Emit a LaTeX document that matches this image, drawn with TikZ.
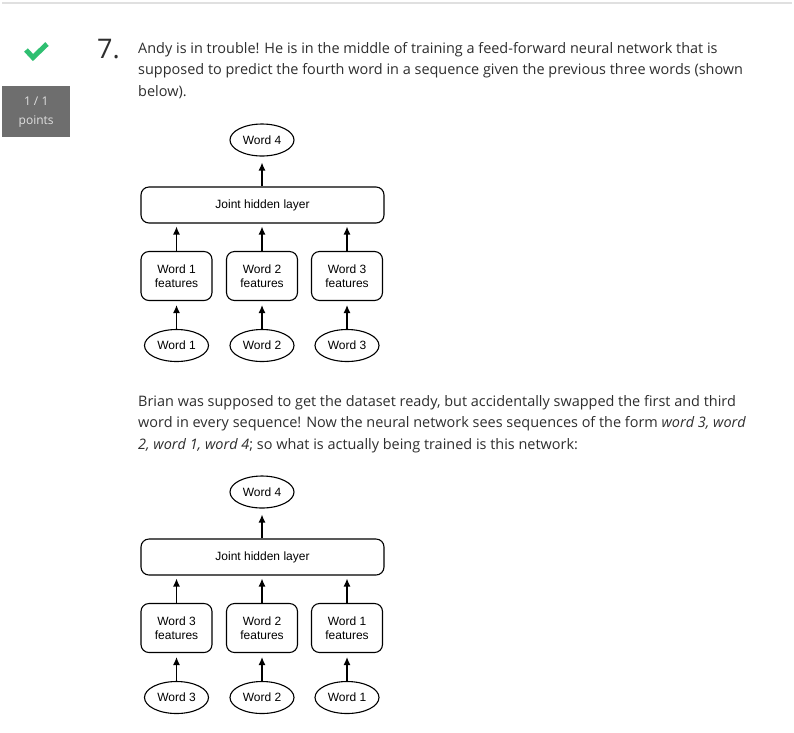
\documentclass[tikz,border=0pt]{standalone}
\usepackage{fontspec}
\setmainfont{Open Sans}
\newfontfamily\diagfont{Liberation Sans}
\usepackage{xcolor}
\usepackage{tikz}
\usetikzlibrary{arrows.meta,shapes.geometric,calc}
\definecolor{quizgreen}{HTML}{2FBF71}
\definecolor{pointsgray}{HTML}{6E6E6E}
\definecolor{bodytext}{HTML}{2E2E2E}
\definecolor{ruleline}{HTML}{E0E0E0}
\tikzset{
	word node/.style = {ellipse, draw, line width=1.1pt, minimum width=64pt, minimum height=32pt, inner sep=0pt, font=\diagfont\fontsize{12}{14}\selectfont},
	feature node/.style = {rectangle, rounded corners=8pt, draw, line width=1.1pt, minimum width=71pt, minimum height=49pt, inner sep=0pt, align=center, font=\diagfont\fontsize{12}{14.5}\selectfont},
	hidden node/.style = {rectangle, rounded corners=8pt, draw, line width=1.1pt, minimum width=243pt, minimum height=36pt, inner sep=0pt, font=\diagfont\fontsize{12}{14}\selectfont},
	link/.style = {->, line width=1.2pt, shorten >=4pt},
	>={Latex[length=8pt,width=7pt]}
}

\begin{document}
\begin{tikzpicture}[x=1pt,y=-1pt]
    \useasboundingbox (0,0) rectangle (794,732);
    \fill[white] (0,0) rectangle (794,732);
    % Header
    \draw[ruleline, line width=2pt] (2,3) -- (792,3);
    \draw[quizgreen, line width=5pt] (26,50) -- (33,57.5) -- (47,44);
    \node (points) [fill=pointsgray, minimum width=68pt, minimum height=51pt, inner sep=0pt, anchor=north west,
        text=white!88!black, align=center, font=\fontsize{12}{19}\selectfont] at (2,86) {1 / 1\\points};
    \node (qnum) [anchor=base west, inner sep=0pt, text=bodytext, font=\fontsize{27}{27}\selectfont] at (97,58) {7.};

    % Question text
    \node (intro) [anchor=north west, inner sep=0pt, align=left, text=bodytext, font=\fontsize{14.45}{21.5}\selectfont] at (138,42)
        {Andy is in trouble! He is in the middle of training a feed-forward neural network that is\\
         supposed to predict the fourth word in a sequence given the previous three words (shown\\
         below).};
    \node (swap) [anchor=north west, inner sep=0pt, align=left, text=bodytext, font=\fontsize{14.45}{21.5}\selectfont] at (138,395)
        {Brian was supposed to get the dataset ready, but accidentally swapped the first and third\\
         word in every sequence! Now the neural network sees sequences of the form \textit{word 3, word}\\
         \textit{2, word 1, word 4}; so what is actually being trained is this network:};

    % Nodes (first network)
    \node (w4a) [word node] at (262,140) {Word 4};
    \node (ja) [hidden node] at (262.5,205) {Joint hidden layer};
    \node (fa1) [feature node] at (176.5,276) {Word 1\\features};
    \node (fa2) [feature node] at (262,276) {Word 2\\features};
    \node (fa3) [feature node] at (347,276) {Word 3\\features};
    \node (wa1) [word node] at (176.5,345.5) {Word 1};
    \node (wa2) [word node] at (262,345.5) {Word 2};
    \node (wa3) [word node] at (347,345.5) {Word 3};

    % Arrows (first network)
    \draw [link] (wa1) to (fa1);
    \draw [link] (wa2) to (fa2);
    \draw [link] (wa3) to (fa3);
    \draw [link, shorten >=3pt] (fa1.north) to (fa1.north |- ja.south);
    \draw [link, shorten >=3pt] (fa2.north) to (fa2.north |- ja.south);
    \draw [link, shorten >=3pt] (fa3.north) to (fa3.north |- ja.south);
    \draw [link, shorten >=6pt] (ja.north -| w4a.south) to (w4a.south);

    % Nodes (second network)
    \node (w4b) [word node] at (262,492) {Word 4};
    \node (jb) [hidden node] at (262.5,557) {Joint hidden layer};
    \node (fb1) [feature node] at (176.5,628) {Word 3\\features};
    \node (fb2) [feature node] at (262,628) {Word 2\\features};
    \node (fb3) [feature node] at (347,628) {Word 1\\features};
    \node (wb1) [word node] at (176.5,697.5) {Word 3};
    \node (wb2) [word node] at (262,697.5) {Word 2};
    \node (wb3) [word node] at (347,697.5) {Word 1};

    % Arrows (second network)
    \draw [link] (wb1) to (fb1);
    \draw [link] (wb2) to (fb2);
    \draw [link] (wb3) to (fb3);
    \draw [link, shorten >=3pt] (fb1.north) to (fb1.north |- jb.south);
    \draw [link, shorten >=3pt] (fb2.north) to (fb2.north |- jb.south);
    \draw [link, shorten >=3pt] (fb3.north) to (fb3.north |- jb.south);
    \draw [link, shorten >=6pt] (jb.north -| w4b.south) to (w4b.south);
\end{tikzpicture}
\end{document}
